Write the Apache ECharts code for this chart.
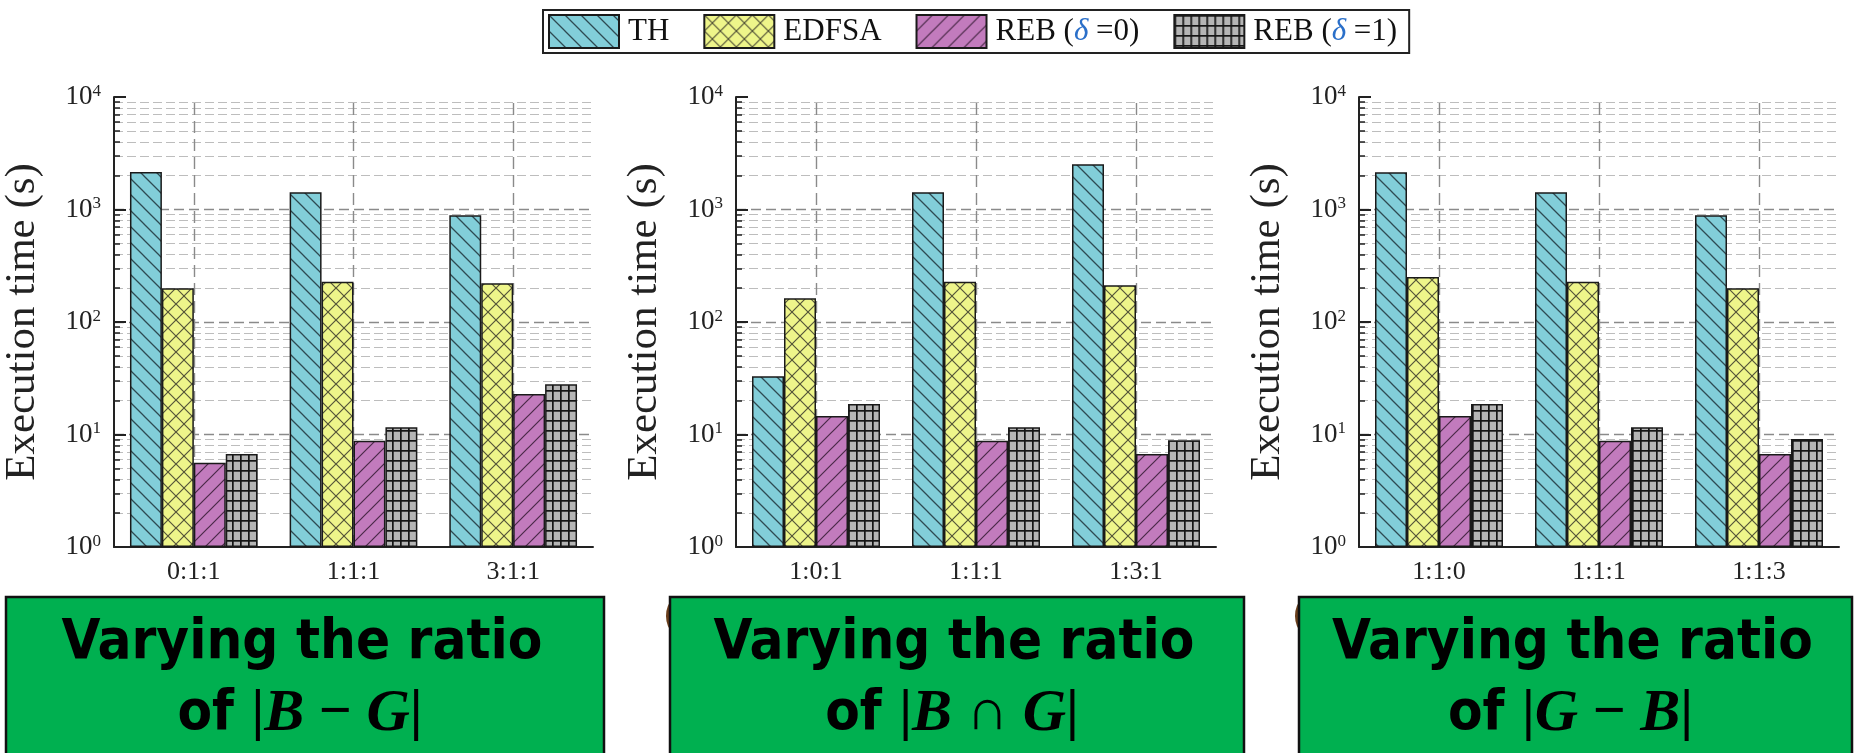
<!DOCTYPE html>
<html>
<head>
<meta charset="utf-8">
<script src="https://cdn.jsdelivr.net/npm/echarts@6/dist/echarts.min.js"></script>
<style>
html,body{margin:0;padding:0;background:#fff;}
#c{width:1864px;height:753px;}
</style>
</head>
<body>
<div id="c"></div>
<script>
// ---------- data ----------
const seriesNames = ['TH', 'EDFSA', 'REB (δ =0)', 'REB (δ =1)'];

const categoriesA = ['0:1:1', '1:1:1', '3:1:1'];
const thA    = [2150, 1420, 890];
const edfsaA = [200, 228, 221];
const reb0A  = [5.6, 8.8, 22.9];
const reb1A  = [6.7, 11.6, 28];

const categoriesB = ['1:0:1', '1:1:1', '1:3:1'];
const thB    = [33, 1420, 2520];
const edfsaB = [163, 228, 212];
const reb0B  = [14.6, 8.8, 6.7];
const reb1B  = [18.7, 11.6, 8.9];

const categoriesC = ['1:1:0', '1:1:1', '1:1:3'];
const thC    = [2140, 1420, 888];
const edfsaC = [251, 228, 200];
const reb0C  = [14.6, 8.8, 6.7];
const reb1C  = [18.7, 11.6, 9.1];

const yTickValues = [1, 10, 100, 1000, 10000];
const yAxisTitle = 'Execution time (s)';
const boxLine1 = 'Varying the ratio';
const boxSets = [['B', '−', 'G'], ['B', '∩', 'G'], ['G', '−', 'B']];

// ---------- patterns ----------
function pattern(bg, w, h, draw) {
  const c = document.createElement('canvas');
  c.width = w; c.height = h;
  const g = c.getContext('2d');
  g.fillStyle = bg; g.fillRect(0, 0, w, h);
  draw(g, w, h);
  return { image: c, repeat: 'repeat' };
}
function back(g, s) { // "\"
  g.beginPath();
  g.moveTo(-2, -2); g.lineTo(s + 2, s + 2);
  g.moveTo(-2, s - 2); g.lineTo(2, s + 2);
  g.moveTo(s - 2, -2); g.lineTo(s + 2, 2);
  g.stroke();
}
function fwd(g, s) { // "/"
  g.beginPath();
  g.moveTo(-2, s + 2); g.lineTo(s + 2, -2);
  g.moveTo(-2, 2); g.lineTo(2, -2);
  g.moveTo(s - 2, s + 2); g.lineTo(s + 2, s - 2);
  g.stroke();
}
const patTH = pattern('#82ced9', 16, 16, (g, w) => { g.strokeStyle = '#2e4a52'; g.lineWidth = 1.3; back(g, w); });
const patED = pattern('#eef58a', 16, 16, (g, w) => { g.strokeStyle = '#55553a'; g.lineWidth = 1.2; back(g, w); fwd(g, w); });
const patR0 = pattern('#c27bbd', 16, 16, (g, w) => { g.strokeStyle = '#4a2a48'; g.lineWidth = 1.2; fwd(g, w); });
const patR1 = pattern('#b5b5b5', 8, 10, (g, w, h) => { g.fillStyle = '#151515'; g.fillRect(0, 0, 1.7, h); g.fillRect(0, 0, w, 1.7); });
const patterns = [patTH, patED, patR0, patR1];

// ---------- layout ----------
const grids = [
  { left: 113, top: 97, width: 480, height: 450 },
  { left: 736, top: 97, width: 480, height: 450 },
  { left: 1359, top: 97, width: 480, height: 450 }
];
const panels = [
  { cats: categoriesA, vals: [thA, edfsaA, reb0A, reb1A] },
  { cats: categoriesB, vals: [thB, edfsaB, reb0B, reb1B] },
  { cats: categoriesC, vals: [thC, edfsaC, reb0C, reb1C] }
];

const serif = "'Liberation Serif','Times New Roman',serif";
const xAxes = [], yAxes = [], series = [];
panels.forEach((p, i) => {
  xAxes.push({
    type: 'category', gridIndex: i, data: p.cats,
    axisLine: { show: true, lineStyle: { color: '#222', width: 2 } },
    axisTick: { show: false },
    axisLabel: { fontFamily: serif, fontSize: 26, color: '#222', margin: 12 },
    splitLine: { show: false }
  });
  yAxes.push({
    type: 'log', gridIndex: i, logBase: 10, min: yTickValues[0], max: yTickValues[yTickValues.length - 1],
    splitNumber: 4,
    name: yAxisTitle, nameLocation: 'middle', nameGap: 70,
    nameTextStyle: { fontFamily: serif, fontSize: 43, color: '#222' },
    axisLine: { show: true, lineStyle: { color: '#222', width: 2 } },
    axisTick: { show: true, inside: true, length: 12, lineStyle: { color: '#222', width: 2 } },
    minorTick: { show: true, splitNumber: 9, length: 6, lineStyle: { color: '#222', width: 1.5 } },
    axisLabel: {
      margin: 13,
      formatter: v => '{b|10}{s|' + Math.round(Math.log10(v)) + '}',
      rich: {
        b: { fontFamily: serif, fontSize: 27, color: '#222', lineHeight: 28 },
        s: { fontFamily: serif, fontSize: 17, color: '#222', verticalAlign: 'top', lineHeight: 15 }
      }
    },
    splitLine: { show: true, showMinLine: false, showMaxLine: false, lineStyle: { color: '#8a8a8a', width: 1.3, type: [10, 5] } },
    minorSplitLine: { show: true, lineStyle: { color: '#bdbdbd', width: 1.1, type: [9, 4] } }
  });
  // helper series carrying the dashed vertical lines at category centres (under the bars)
  series.push({
    name: 'centre-lines', type: 'line', xAxisIndex: i, yAxisIndex: i, data: [],
    z: 1, silent: true, animation: false,
    markLine: {
      silent: true, symbol: 'none', z: 1, animation: false,
      label: { show: false },
      lineStyle: { color: '#8a8a8a', width: 1.4, type: [12, 6] },
      data: p.cats.map(c => ({ xAxis: c }))
    }
  });
  p.vals.forEach((vals, k) => {
    series.push({
      name: seriesNames[k], type: 'bar', xAxisIndex: i, yAxisIndex: i,
      data: vals, barGap: '0%', barCategoryGap: '20%', z: 3,
      itemStyle: { color: patterns[k], borderColor: '#1a1a1a', borderWidth: 1.5 },
      emphasis: { disabled: true },
      animation: false
    });
  });
});

// ---------- boxes below ----------
const boxGeom = [
  { x: 6, w: 598 },
  { x: 670, w: 574 },
  { x: 1299, w: 553 }
];
const comic = "'DejaVu Sans Condensed','DejaVu Sans',sans-serif";
const graphic = [];
boxGeom.forEach((b, i) => {
  if (i > 0) {
    graphic.push({
      type: 'arc', z: 1, silent: true,
      shape: { cx: b.x + 22, cy: 616, r: 24, startAngle: Math.PI * 0.75, endAngle: Math.PI * 1.25 },
      style: { stroke: '#6b3f1c', lineWidth: 4, fill: null }
    });
  }
  graphic.push({
    type: 'rect', z: 2, silent: true,
    shape: { x: b.x, y: 597, width: b.w, height: 170 },
    style: { fill: '#00b050', stroke: '#111', lineWidth: 2.5 }
  });
  const cx = b.x + b.w / 2;
  graphic.push({
    type: 'text', z: 3, silent: true, x: cx - 3, y: 643,
    style: { text: boxLine1, fill: '#000', font: 'bold 56px ' + comic, align: 'center', verticalAlign: 'middle' }
  });
  const m = boxSets[i];
  graphic.push({
    type: 'text', z: 3, silent: true, x: cx - 5, y: 714,
    style: {
      text: '{o|of }{p||}{i|' + m[0] + '}{p| ' + m[1] + ' }{i|' + m[2] + '}{p||}',
      align: 'center', verticalAlign: 'middle',
      rich: {
        o: { font: 'bold 56px ' + comic, fill: '#000' },
        p: { font: 'bold 58px ' + serif, fill: '#000' },
        i: { font: 'italic bold 60px ' + serif, fill: '#000' }
      }
    }
  });
});

const chart = echarts.init(document.getElementById('c'), null, { renderer: 'canvas' });
chart.setOption({
  animation: false,
  backgroundColor: '#fff',
  legend: {
    data: seriesNames,
    left: 543, top: 10,
    icon: 'rect', itemWidth: 70, itemHeight: 33, itemGap: 34,
    padding: [4, 12, 4, 5],
    borderColor: '#222', borderWidth: 2, backgroundColor: '#fff',
    selectedMode: false,
    formatter: n => n.replace('δ', '{d|δ}'),
    textStyle: {
      fontFamily: serif, fontSize: 31, color: '#111', padding: [0, 0, 0, 4],
      rich: { d: { fontFamily: serif, fontSize: 31, fontStyle: 'italic', color: '#2a6fc9' } }
    }
  },
  grid: grids,
  xAxis: xAxes,
  yAxis: yAxes,
  series: series,
  graphic: graphic
});
</script>
</body>
</html>
